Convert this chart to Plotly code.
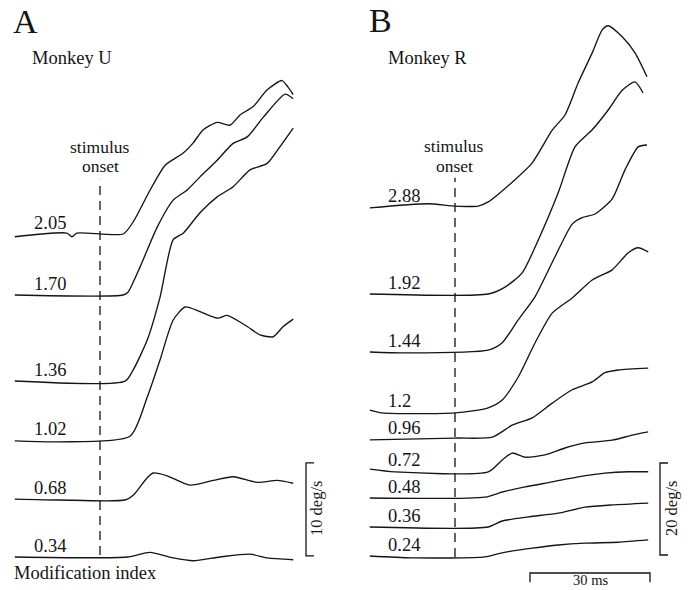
import plotly.graph_objects as go

# ---------------- data (time in ms re: stimulus onset, eye velocity in deg/s) --------
labels_a = ["2.05", "1.70", "1.36", "1.02", "0.68", "0.34"]
labels_b = ["2.88", "1.92", "1.44", "1.2", "0.96", "0.72", "0.48", "0.36", "0.24"]

t_a_205 = [-21.3, -8.3, -7.0, -5.8, 5.8, 8.3, 12.5, 16.3, 20.8, 23.3, 25.8, 29.3, 32.5, 35.0, 38.3, 41.8, 45.5, 47.0, 48.3]
v_a_205 = [-0.3, 0.1, -0.3, 0.1, 0.0, 1.3, 4.7, 7.4, 8.7, 9.8, 11.2, 12.0, 11.7, 12.8, 13.7, 15.5, 16.5, 15.8, 15.0]
t_a_170 = [-21.3, 5.8, 7.0, 10.0, 14.3, 18.3, 21.8, 25.0, 29.3, 33.3, 36.8, 40.8, 46.3, 48.3]
v_a_170 = [0.0, 0.0, 0.3, 3.0, 7.3, 10.2, 11.3, 12.7, 14.5, 16.3, 17.0, 19.1, 21.6, 21.1]
t_a_136 = [-21.3, 6.3, 8.3, 11.8, 15.0, 18.3, 20.8, 25.0, 29.3, 33.3, 37.5, 41.8, 45.0, 48.3]
v_a_136 = [0.0, 0.0, 1.2, 4.4, 9.0, 15.2, 15.9, 18.1, 19.8, 20.9, 22.7, 23.4, 25.2, 27.2]
t_a_102 = [-21.3, -10.0, 7.5, 11.8, 15.0, 18.3, 21.3, 25.0, 29.5, 31.8, 36.8, 40.0, 43.3, 45.8, 48.3]
v_a_102 = [-0.1, -0.2, 0.4, 4.6, 8.6, 12.9, 14.3, 13.8, 13.1, 13.4, 12.2, 11.3, 11.1, 12.2, 13.0]
t_a_068 = [-21.3, -10.0, 6.3, 8.3, 11.8, 13.3, 16.8, 22.5, 28.3, 33.3, 39.3, 44.3, 48.3]
v_a_068 = [0.0, -0.1, -0.1, 0.4, 2.3, 2.8, 2.5, 1.5, 2.0, 2.4, 1.8, 2.0, 1.7]
t_a_034 = [-21.3, 6.8, 12.5, 18.3, 23.3, 30.0, 37.5, 41.8, 48.3]
v_a_034 = [0.0, 0.0, 0.5, -0.1, -0.4, 0.0, 0.3, -0.1, -0.3]

t_b_288 = [-21.3, -6.8, 0.0, 5.8, 8.3, 14.3, 19.3, 24.3, 27.5, 30.8, 34.3, 36.8, 38.3, 41.8, 45.0, 48.0]
v_b_288 = [-0.2, 0.7, 0.2, 0.2, 1.1, 5.4, 9.6, 16.7, 20.0, 27.0, 33.5, 38.5, 39.4, 37.0, 33.5, 28.3]
t_b_192 = [-21.3, 8.3, 12.5, 16.8, 20.8, 25.8, 30.0, 34.3, 38.3, 41.8, 45.0, 47.0]
v_b_192 = [0.0, 0.0, 1.5, 4.6, 11.7, 22.0, 32.0, 35.7, 40.0, 44.3, 46.1, 43.7]
t_b_144 = [-21.3, -12.5, 8.3, 11.8, 15.8, 20.0, 25.0, 29.3, 31.8, 35.0, 39.3, 42.5, 45.8, 48.0]
v_b_144 = [0.0, -0.2, 0.4, 2.0, 7.0, 12.0, 20.7, 27.8, 29.2, 30.0, 33.3, 39.6, 44.6, 45.0]
t_b_120 = [-21.3, -18.3, 0.0, 8.3, 11.8, 15.8, 20.0, 24.3, 29.3, 34.3, 39.3, 43.3, 45.8, 48.3]
v_b_120 = [0.4, -0.2, -0.2, 0.9, 2.6, 7.6, 15.0, 21.5, 24.8, 28.7, 30.9, 34.6, 35.7, 34.8]
t_b_096 = [-21.3, 0.0, 9.3, 14.3, 19.3, 24.3, 29.3, 34.3, 37.5, 40.8, 48.3]
v_b_096 = [-0.2, 0.2, 0.4, 3.0, 4.6, 7.8, 10.7, 12.4, 14.4, 15.0, 15.4]
t_b_072 = [-21.3, -15.0, 8.3, 11.8, 14.3, 17.5, 22.5, 27.5, 32.5, 39.3, 44.3, 48.3]
v_b_072 = [0.4, -0.2, -0.2, 2.4, 3.9, 3.0, 3.5, 5.0, 6.1, 6.7, 7.8, 8.5]
t_b_048 = [-21.3, 7.5, 11.8, 17.5, 24.3, 30.8, 37.5, 43.3, 48.3]
v_b_048 = [0.0, 0.2, 1.3, 2.4, 3.5, 4.6, 5.4, 5.7, 5.7]
t_b_036 = [-21.3, 8.3, 11.8, 18.3, 25.8, 32.5, 39.3, 48.3]
v_b_036 = [0.0, 0.0, 1.3, 2.2, 3.0, 4.3, 4.8, 5.2]
t_b_024 = [-21.3, -10.8, 7.5, 11.8, 19.3, 25.8, 32.5, 40.8, 48.3]
v_b_024 = [0.0, -0.4, -0.2, 0.7, 1.7, 2.4, 2.8, 3.0, 3.5]

scale_a_vel = 10   # deg/s
scale_b_vel = 20   # deg/s
scale_time = 30    # ms

# ---------------- layout constants ----------------
W, H = 690, 590
PX_PER_MS = 4.0
PX_PER_DEG_A = 9.3
PX_PER_DEG_B = 4.6
ONSET_PX_A, ONSET_PX_B = 100, 455

# vertical stacking offsets of each trace (deg/s on each panel's axis)
offsets_a = [38.28, 31.72, 22.47, 16.13, 9.78, 3.55]
offsets_b = [83.26, 64.35, 51.74, 38.70, 32.83, 25.87, 20.0, 13.70, 7.39]

series_a = [(t_a_205, v_a_205), (t_a_170, v_a_170), (t_a_136, v_a_136),
            (t_a_102, v_a_102), (t_a_068, v_a_068), (t_a_034, v_a_034)]
series_b = [(t_b_288, v_b_288), (t_b_192, v_b_192), (t_b_144, v_b_144),
            (t_b_120, v_b_120), (t_b_096, v_b_096), (t_b_072, v_b_072),
            (t_b_048, v_b_048), (t_b_036, v_b_036), (t_b_024, v_b_024)]

INK = "#141414"
FONT = "Liberation Serif"
LW = 1.35

fig = go.Figure()


def add_trace(t, v, off, xa, ya):
    fig.add_trace(go.Scatter(
        x=t, y=[val + off for val in v], mode="lines",
        line=dict(color=INK, width=LW, shape="spline", smoothing=0.65),
        xaxis=xa, yaxis=ya, hoverinfo="skip", showlegend=False))


for (t, v), off in zip(series_a, offsets_a):
    add_trace(t, v, off, "x", "y")
for (t, v), off in zip(series_b, offsets_b):
    add_trace(t, v, off, "x2", "y2")

# stimulus-onset dashed lines
dash_a = (3.76, 44.1)
dash_b = (7.17, 89.6)
fig.add_trace(go.Scatter(x=[0, 0], y=list(dash_a), mode="lines",
                         line=dict(color=INK, width=1.3, dash="9px,6px"),
                         xaxis="x", yaxis="y", hoverinfo="skip", showlegend=False))
fig.add_trace(go.Scatter(x=[0, 0], y=list(dash_b), mode="lines",
                         line=dict(color=INK, width=1.3, dash="9px,6px"),
                         xaxis="x2", yaxis="y2", hoverinfo="skip", showlegend=False))

# scale bars (brackets)
bar_a_x, bar_a_y0, tick_ms = 51.5, 3.66, 2.0
fig.add_trace(go.Scatter(
    x=[bar_a_x + tick_ms, bar_a_x, bar_a_x, bar_a_x + tick_ms],
    y=[bar_a_y0, bar_a_y0, bar_a_y0 + scale_a_vel, bar_a_y0 + scale_a_vel],
    mode="lines", line=dict(color=INK, width=1.3), xaxis="x", yaxis="y",
    hoverinfo="skip", showlegend=False))
bar_b_x, bar_b_y0 = 51.25, 7.61
fig.add_trace(go.Scatter(
    x=[bar_b_x + tick_ms, bar_b_x, bar_b_x, bar_b_x + tick_ms],
    y=[bar_b_y0, bar_b_y0, bar_b_y0 + scale_b_vel, bar_b_y0 + scale_b_vel],
    mode="lines", line=dict(color=INK, width=1.3), xaxis="x2", yaxis="y2",
    hoverinfo="skip", showlegend=False))
tbar_x0, tbar_y, tick_deg = 18.75, 3.7, 2.0
fig.add_trace(go.Scatter(
    x=[tbar_x0, tbar_x0, tbar_x0 + scale_time, tbar_x0 + scale_time],
    y=[tbar_y - tick_deg, tbar_y, tbar_y, tbar_y - tick_deg],
    mode="lines", line=dict(color=INK, width=1.3), xaxis="x2", yaxis="y2",
    hoverinfo="skip", showlegend=False))

# ---------------- annotations ----------------
ann = []


def txt(text, x, y, size, xanchor="left", yanchor="middle", xref="paper", yref="paper",
        textangle=0, xshift=0, yshift=0):
    ann.append(dict(text=text, x=x, y=y, xref=xref, yref=yref, showarrow=False,
                    xanchor=xanchor, yanchor=yanchor, textangle=textangle,
                    xshift=xshift, yshift=yshift, borderpad=0,
                    font=dict(family=FONT, size=size, color=INK)))


def px(xp, yp):
    return xp / W, 1 - yp / H


txt("A", *px(12, 22), 34)
txt("B", *px(368, 21), 34)
txt("Monkey U", *px(31, 58), 18.5)
txt("Monkey R", *px(387, 58), 18.5)
txt("stimulus", *px(100, 146.5), 17.5, xanchor="center")
txt("onset", *px(100, 166), 17.5, xanchor="center")
txt("stimulus", *px(454, 146), 17.5, xanchor="center")
txt("onset", *px(454, 166), 17.5, xanchor="center")
txt("Modification index", *px(13, 573), 18.5)
txt("10 deg/s", *px(316, 509), 16.5, xanchor="center", textangle=-90)
txt("20 deg/s", *px(671, 509), 16.5, xanchor="center", textangle=-90)
txt("30 ms", *px(590, 580), 14.5, xanchor="center")

for lab, off in zip(labels_a, offsets_a):
    txt(lab, -16.8, off, 18.5, xref="x", yref="y", yshift=11)
for lab, off in zip(labels_b, offsets_b):
    txt(lab, -17.0, off, 18.5, xref="x2", yref="y2", yshift=11)

# axes ranges from pixel geometry
xa_rng = [-ONSET_PX_A / PX_PER_MS, (W / 2 - ONSET_PX_A) / PX_PER_MS]
xb_rng = [-(ONSET_PX_B - W / 2) / PX_PER_MS, (W - ONSET_PX_B) / PX_PER_MS]
ya_rng = [0, H / PX_PER_DEG_A]
yb_rng = [0, H / PX_PER_DEG_B]

hidden = dict(visible=False, showgrid=False, zeroline=False, fixedrange=True)
fig.update_layout(
    width=W, height=H, margin=dict(l=0, r=0, t=0, b=0),
    paper_bgcolor="white", plot_bgcolor="white", showlegend=False,
    xaxis=dict(domain=[0, 0.5], range=xa_rng, **hidden),
    yaxis=dict(domain=[0, 1], range=ya_rng, **hidden),
    xaxis2=dict(domain=[0.5, 1], range=xb_rng, anchor="y2", **hidden),
    yaxis2=dict(domain=[0, 1], range=yb_rng, anchor="x2", **hidden),
    annotations=ann,
)

fig.write_html("out.html")
